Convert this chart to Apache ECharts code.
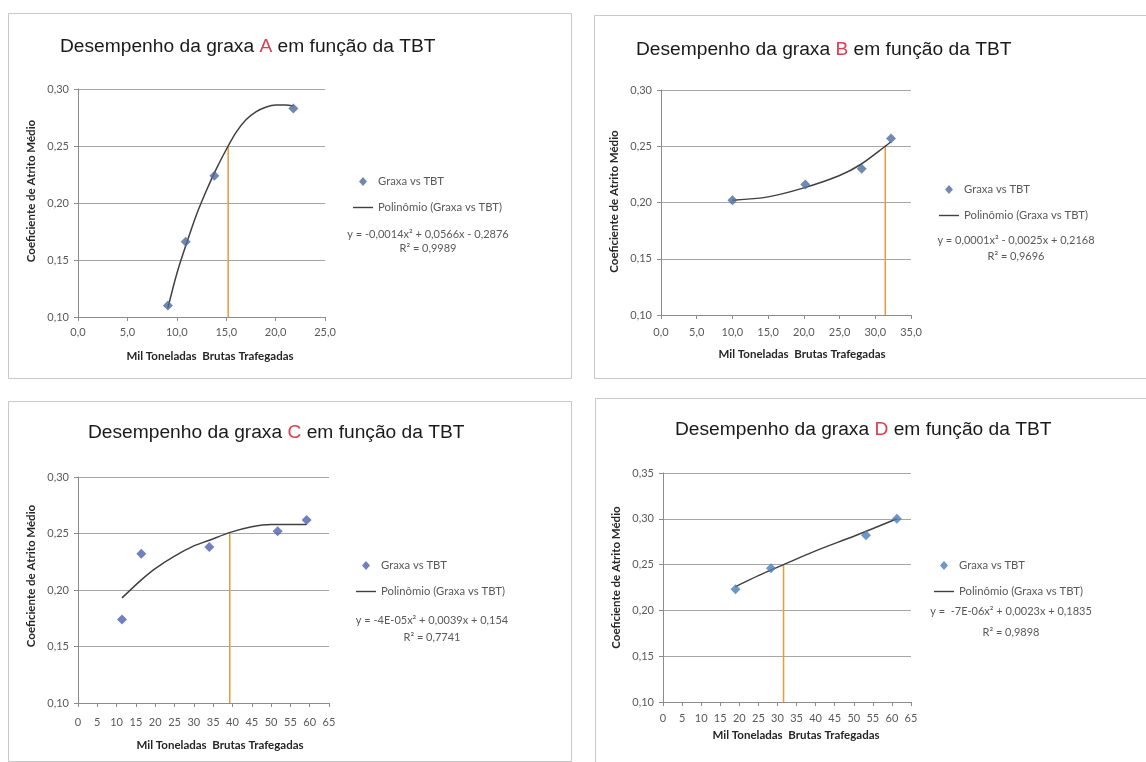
<!DOCTYPE html>
<html>
<head>
<meta charset="utf-8">
<script src="https://cdn.jsdelivr.net/npm/echarts@6/dist/echarts.min.js"></script>
<style>
html,body{margin:0;padding:0;background:#fff;}
#c{width:1146px;height:762px;}
</style>
</head>
<body>
<div id="c"></div>
<script>
// ---- Data ----
const panelLetters = ['A', 'B', 'C', 'D'];

const aX = [9.1, 10.9, 13.8, 21.8];
const aY = [0.110, 0.166, 0.224, 0.283];
const aCurveX = [9.1, 10, 11, 12, 13, 14, 15.2, 16, 17, 18, 19, 20, 21, 21.8];
const aCurveY = [0.108, 0.138, 0.165, 0.190, 0.211, 0.230, 0.250, 0.262, 0.273, 0.280, 0.284, 0.286, 0.286, 0.285];
const aCutX = [15.2, 15.2];
const aCutY = [0.10, 0.25];

const bX = [10.0, 20.2, 28.1, 32.2];
const bY = [0.202, 0.216, 0.230, 0.257];
const bCurveX = [10, 15, 20, 25, 28, 31.4, 32.2];
const bCurveY = [0.202, 0.205, 0.213, 0.224, 0.234, 0.250, 0.254];
const bCutX = [31.4, 31.4];
const bCutY = [0.10, 0.251];

const cX = [11.4, 16.4, 34.0, 51.7, 59.2];
const cY = [0.174, 0.232, 0.238, 0.252, 0.262];
const cCurveX = [11.4, 16.4, 20, 25, 30, 34, 39.4, 45, 50, 57.5, 59.2];
const cCurveY = [0.193, 0.209, 0.219, 0.230, 0.239, 0.244, 0.251, 0.256, 0.258, 0.258, 0.258];
const cCutX = [39.3, 39.3];
const cCutY = [0.10, 0.251];

const dX = [19.0, 28.3, 53.2, 61.3];
const dY = [0.223, 0.246, 0.282, 0.300];
const dCurveX = [19, 25, 31.6, 40, 50, 61.3];
const dCurveY = [0.226, 0.238, 0.250, 0.265, 0.281, 0.300];
const dCutX = [31.6, 31.6];
const dCutY = [0.10, 0.250];

const xRanges = [[0, 25, 5], [0, 35, 5], [0, 65, 5], [0, 65, 5]];
const yRanges = [[0.10, 0.30, 0.05], [0.10, 0.30, 0.05], [0.10, 0.30, 0.05], [0.10, 0.35, 0.05]];
const xDecimals = [1, 1, 0, 0];

const equations = [
  'y = -0,0014x² + 0,0566x - 0,2876',
  'y = 0,0001x² - 0,0025x + 0,2168',
  'y = -4E-05x² + 0,0039x + 0,154',
  'y =  -7E-06x² + 0,0023x + 0,1835'
];
const rSquared = ['R² = 0,9989', 'R² = 0,9696', 'R² = 0,7741', 'R² = 0,9898'];

const titlePrefix = 'Desempenho da graxa ';
const titleSuffix = ' em função da TBT';
const xName = 'Mil Toneladas  Brutas Trafegadas';
const yName = 'Coeficiente de Atrito Médio';
const scatterName = 'Graxa vs TBT';
const curveName = 'Polinômio (Graxa vs TBT)';

const pts = [[aX, aY], [bX, bY], [cX, cY], [dX, dY]];
const curves = [[aCurveX, aCurveY], [bCurveX, bCurveY], [cCurveX, cCurveY], [dCurveX, dCurveY]];
const cuts = [[aCutX, aCutY], [bCutX, bCutY], [cCutX, cCutY], [dCutX, dCutY]];

// ---- Layout (pixels) ----
const grids = [
  {left: 78, top: 89, width: 247, height: 228},
  {left: 661, top: 90, width: 250, height: 225},
  {left: 78, top: 477, width: 251, height: 226},
  {left: 663, top: 473, width: 248, height: 229}
];
const titlePos = [[60, 37], [636, 40], [88, 423], [675, 420]];
const legendPos = [[353, 176], [939, 184], [356, 560], [934, 560]];
const eqPos = [[428, 234, 248], [1016, 240, 256], [432, 620, 637], [1011, 611, 632]];
const xNameGap = [33, 33, 36, 27];
const xNameShift = [17, 32, 33, 18];
const yNameShift = [24, 2, 28, 20];
const xLabelMargin = [10, 12, 14, 11];
const markerColors = ['#4D6A9A', '#4D6D9C', '#5060B0', '#4A7DB8'];
const frames = [[8, 13, 563, 365], [594, 15, 560, 363], [8, 401, 563, 360], [595, 398, 560, 366]];

const FONT = 'Lato';
const LABEL_COLOR = '#595959';
const zip = (xs, ys) => xs.map((x, i) => [x, ys[i]]);
// diamond centred in a 20x10 box (tiny end dots keep the box width)
const DIAMOND_ICON = 'path://M0,5 L0.01,5 L0.01,5.01 Z M10,0.6 L14,5 L10,9.4 L6,5 Z M20,5 L19.99,5 L19.99,5.01 Z';
const LINE_ICON = 'path://M0,0 L20,0 L20,1.4 L0,1.4 Z';

const option = {
  backgroundColor: '#ffffff',
  animation: false,
  title: [], grid: [], xAxis: [], yAxis: [], legend: [], series: [], graphic: []
};

for (let i = 0; i < 4; i++) {
  option.title.push({
    text: titlePrefix + '{r|' + panelLetters[i] + '}' + titleSuffix,
    left: titlePos[i][0], top: titlePos[i][1], padding: 0,
    textStyle: {
      fontFamily: 'Liberation Sans', fontSize: 19.2, fontWeight: 'normal', color: '#1a1a1a',
      rich: { r: { fontFamily: 'Liberation Sans', fontSize: 19.2, color: '#E03C50' } }
    }
  });
  option.grid.push(Object.assign({containLabel: false}, grids[i]));
  const xr = xRanges[i], yr = yRanges[i];
  option.xAxis.push({
    type: 'value', gridIndex: i, min: xr[0], max: xr[1], interval: xr[2],
    name: xName, nameLocation: 'middle', nameGap: xNameGap[i],
    nameTextStyle: {fontFamily: FONT, fontSize: 11.5, fontWeight: 'bold', color: '#262626',
      padding: [0, 0, 0, xNameShift[i]]},
    axisLine: {show: true, onZero: false, lineStyle: {color: '#8C8C8C', width: 1}},
    axisTick: {show: true, length: 4, lineStyle: {color: '#8C8C8C'}},
    axisLabel: {
      margin: xLabelMargin[i], fontFamily: FONT, fontSize: 11, color: LABEL_COLOR,
      formatter: (v) => v.toFixed(xDecimals[i]).replace('.', ',')
    },
    splitLine: {show: false}
  });
  option.yAxis.push({
    type: 'value', gridIndex: i, min: yr[0], max: yr[1], interval: yr[2],
    name: yName, nameLocation: 'middle', nameGap: 41,
    nameTextStyle: {fontFamily: FONT, fontSize: 11.5, fontWeight: 'bold', color: '#262626',
      padding: [0, 0, 0, yNameShift[i]]},
    axisLine: {show: true, onZero: false, lineStyle: {color: '#8C8C8C', width: 1}},
    axisTick: {show: true, length: 4, lineStyle: {color: '#8C8C8C'}},
    axisLabel: {
      margin: 9, fontFamily: FONT, fontSize: 11, color: LABEL_COLOR,
      formatter: (v) => v.toFixed(2).replace('.', ',')
    },
    splitLine: {show: true, lineStyle: {color: '#A6A6A6', width: 1}}
  });
  option.legend.push({
    orient: 'vertical', left: legendPos[i][0], top: legendPos[i][1], padding: 0,
    itemWidth: 20, itemHeight: 10, itemGap: 15,
    textStyle: {fontFamily: FONT, fontSize: 11.3, color: LABEL_COLOR},
    selectedMode: false,
    data: [
      {name: scatterName, icon: DIAMOND_ICON, itemStyle: {color: markerColors[i]}},
      {name: curveName, icon: LINE_ICON, itemStyle: {color: '#404040'}}
    ]
  });
  option.series.push({
    type: 'line', name: 'corte', xAxisIndex: i, yAxisIndex: i,
    data: zip(cuts[i][0], cuts[i][1]), symbol: 'none',
    lineStyle: {color: '#E89A3C', width: 1.5}, z: 2, silent: true
  });
  option.series.push({
    type: 'line', name: curveName, xAxisIndex: i, yAxisIndex: i,
    data: zip(curves[i][0], curves[i][1]), symbol: 'none', smooth: 0.3,
    lineStyle: {color: '#404040', width: 1.5}, itemStyle: {color: '#404040'}, z: 3, silent: true
  });
  option.series.push({
    type: 'scatter', name: scatterName, xAxisIndex: i, yAxisIndex: i,
    data: zip(pts[i][0], pts[i][1]), symbol: 'diamond', symbolSize: 10,
    itemStyle: {color: markerColors[i]}, z: 4, silent: true
  });
  option.graphic.push({
    type: 'rect', shape: {x: frames[i][0] + 0.5, y: frames[i][1] + 0.5, width: frames[i][2], height: frames[i][3]},
    style: {fill: 'none', stroke: '#C8C8C8', lineWidth: 1}, z: -10, silent: true
  });
  option.graphic.push({
    type: 'text', x: eqPos[i][0], y: eqPos[i][1],
    style: {text: equations[i], fontFamily: FONT, fontSize: 11, fill: LABEL_COLOR, textAlign: 'center', textVerticalAlign: 'middle'}
  });
  option.graphic.push({
    type: 'text', x: eqPos[i][0], y: eqPos[i][2],
    style: {text: rSquared[i], fontFamily: FONT, fontSize: 11, fill: LABEL_COLOR, textAlign: 'center', textVerticalAlign: 'middle'}
  });
}

const chart = echarts.init(document.getElementById('c'), null, {renderer: 'canvas'});
chart.setOption(option);
</script>
</body>
</html>
